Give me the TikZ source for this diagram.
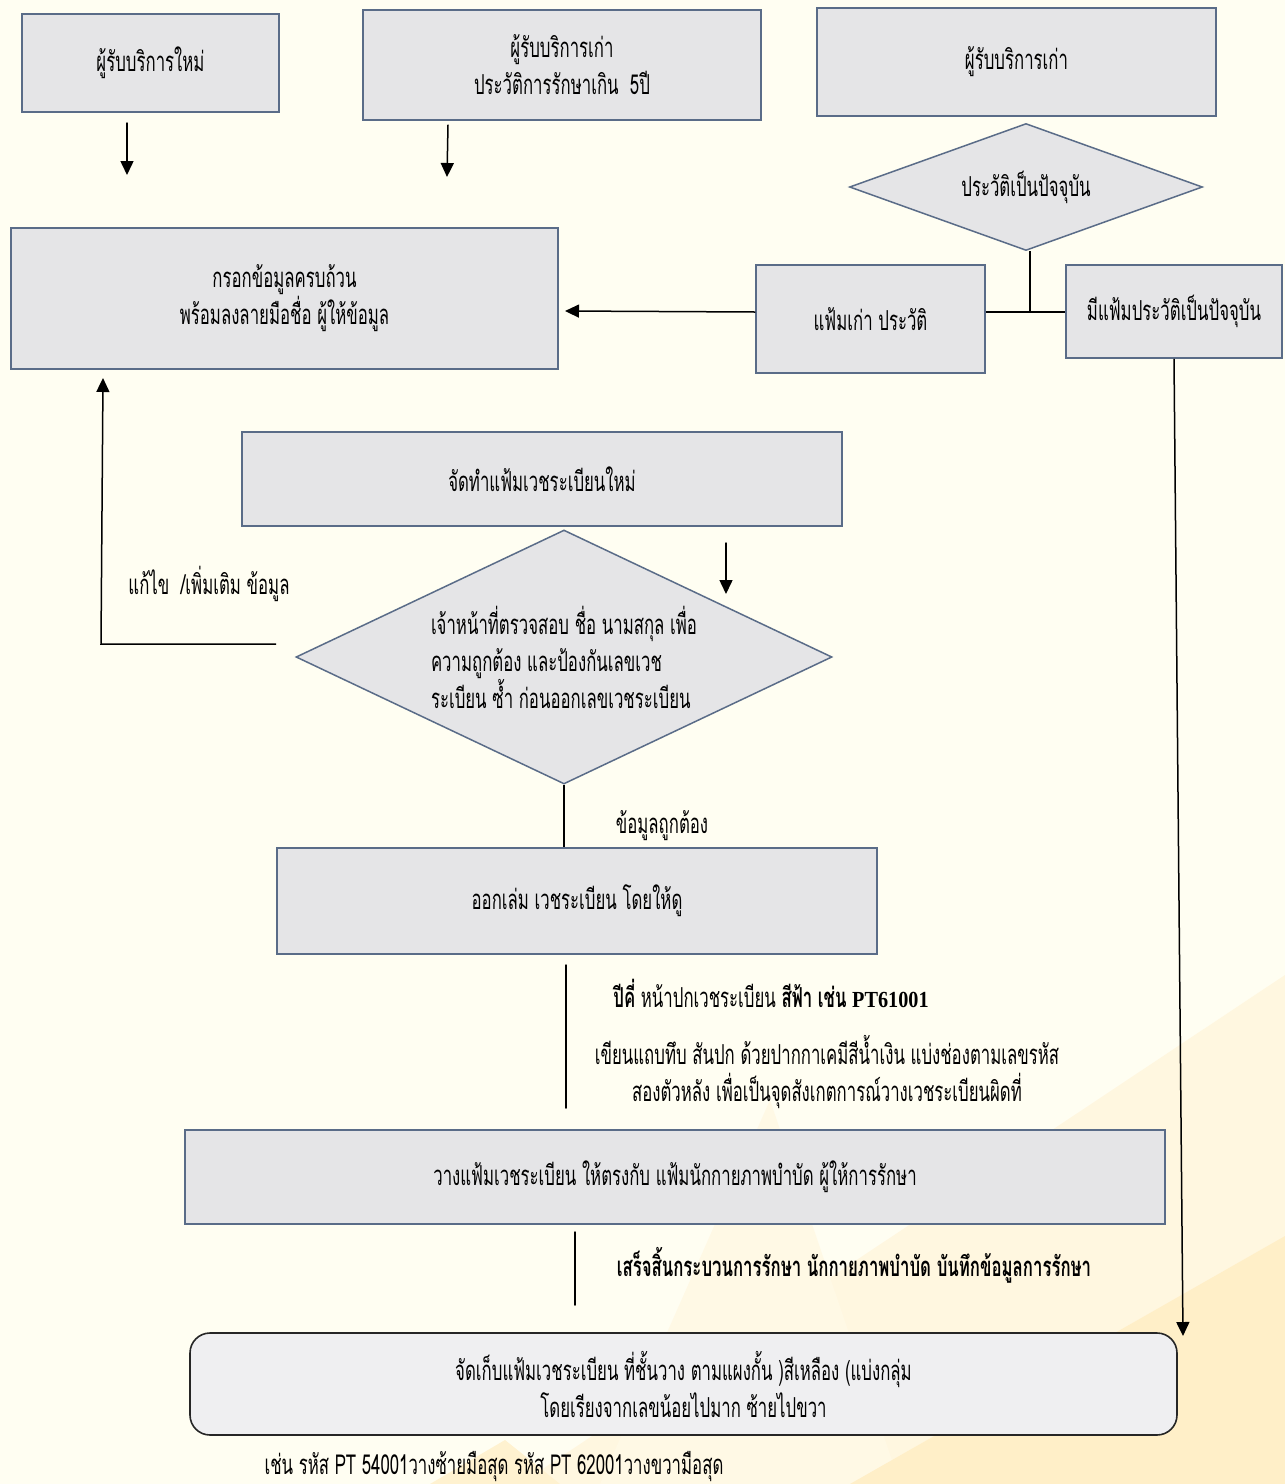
\documentclass[tikz,border=0pt]{standalone}
\usepackage{fontspec}
\usepackage{tikz}
\usetikzlibrary{calc, shapes.geometric, arrows.meta}
\usepackage{tkz-euclide}
\newfontfamily\thaifont[Script=Thai, FakeStretch=0.61]{Loma}
\newfontfamily\codefont[FakeStretch=0.88]{Liberation Serif}
\definecolor{paper}{HTML}{FFFEF2}
\definecolor{boxfill}{HTML}{E5E5E7}
\definecolor{boxline}{HTML}{5A6C88}
\definecolor{roundfill}{HTML}{EFEFF1}
\definecolor{tintlight}{HTML}{FFF7E0}
\definecolor{tintdeep}{HTML}{FFEFC8}
\tikzset{
  flowbox/.style={draw=boxline, fill=boxfill, line width=1.5pt, align=center, inner sep=0pt},
  choice/.style={diamond, draw=boxline, fill=boxfill, line width=1.5pt, inner sep=0pt},
  storebox/.style={draw=black!85, fill=roundfill, line width=1.6pt, rounded corners=20pt, align=center, inner sep=0pt},
  note/.style={align=center, inner sep=0pt},
}

\begin{document}
\begin{tikzpicture}[x=1pt, y=-1pt, line width=1.5pt, >={Triangle[length=14pt, width=13pt]},
                    font=\thaifont\fontsize{27.5}{37}\selectfont]
                \useasboundingbox (0,0) rectangle (1285,1484);
                \fill[paper] (0,0) rectangle (1285,1484);
                \fill[tintlight] (1285,975) -- (1285,1484) -- (520,1484) -- cycle;
                \fill[tintlight!70!paper] (770,1100) -- (900,1484) -- (600,1484) -- cycle;
                \fill[tintdeep] (1285,1236) -- (1285,1484) -- (850,1484) -- cycle;
                \fill[tintdeep!80!paper] (505,1440) -- (560,1484) -- (430,1484) -- cycle;

                \node[flowbox, minimum width=257pt, minimum height=98pt] (newpt) at (150.5,63) {ผู้รับบริการใหม่};
                \node[flowbox, minimum width=398pt, minimum height=110pt] (oldpt) at (562,65)
                    {ผู้รับบริการเก่า\\ประวัติการรักษาเกิน~~5ปี};
                \node[flowbox, minimum width=399pt, minimum height=108pt] (oldcur) at (1016.5,62) {ผู้รับบริการเก่า};
                \node[choice, aspect=2.78, minimum width=353pt, minimum height=127pt] (ifcur) at (1026,187)
                    {ประวัติเป็นปัจจุบัน};
                \node[flowbox, minimum width=547pt, minimum height=141pt] (fill) at (284.5,298.5)
                    {กรอกข้อมูลครบถ้วน\\พร้อมลงลายมือชื่อ ผู้ให้ข้อมูล};
                \node[flowbox, minimum width=229pt, minimum height=108pt] (oldfile) at (870.5,319) {แฟ้มเก่า ประวัติ};
                \node[flowbox, minimum width=216pt, minimum height=93pt] (curfile) at (1174,311.5) {มีแฟ้มประวัติเป็นปัจจุบัน};
                \node[flowbox, minimum width=600pt, minimum height=94pt] (newfile) at (542,479) {จัดทำแฟ้มเวชระเบียนใหม่};
                \node[choice, aspect=2.11, minimum width=536pt, minimum height=254pt, align=left] (check) at (564,657)
                    {เจ้าหน้าที่ตรวจสอบ ชื่อ นามสกุล เพื่อ\\ความถูกต้อง และป้องกันเลขเวช\\ระเบียน ซ้ำ ก่อนออกเลขเวชระเบียน};
                \node[flowbox, minimum width=600pt, minimum height=106pt] (issue) at (577,901) {ออกเล่ม เวชระเบียน โดยให้ดู};
                \node[flowbox, minimum width=980pt, minimum height=94pt] (match) at (675,1177)
                    {วางแฟ้มเวชระเบียน ให้ตรงกับ แฟ้มนักกายภาพบำบัด ผู้ให้การรักษา};
                \node[storebox, minimum width=987pt, minimum height=102pt] (store) at (683.5,1384)
                    {จัดเก็บแฟ้มเวชระเบียน ที่ชั้นวาง ตามแผงกั้น )สีเหลือง (แบ่งกลุ่ม\\โดยเรียงจากเลขน้อยไปมาก ซ้ายไปขวา};

                \node[note] (fixlbl) at (209,584) {แก้ไข~~/เพิ่มเติม ข้อมูล};
                \node[note] (oklbl) at (662,826) {ข้อมูลถูกต้อง};
                \node[note] (oddlbl) at (771,993)
                    {\textbf{ปีคี่} หน้าปกเวชระเบียน \textbf{สีฟ้า เช่น {\codefont\fontsize{23}{26}\selectfont PT61001}}};
                \node[note] (penlbl) at (827,1072)
                    {เขียนแถบทึบ สันปก ด้วยปากกาเคมีสีน้ำเงิน แบ่งช่องตามเลขรหัส\\สองตัวหลัง เพื่อเป็นจุดสังเกตการณ์วางเวชระเบียนผิดที่};
                \node[note] (donelbl) at (854,1265) {\textbf{เสร็จสิ้นกระบวนการรักษา นักกายภาพบำบัด บันทึกข้อมูลการรักษา}};
                \node[note, anchor=base] (exlbl) at (494,1474) {เช่น รหัส PT 54001วางซ้ายมือสุด รหัส PT 62001วางขวามือสุด};

                \tkzDefPoints{127/123/a1, 127/175/a2, 448/125/b1, 447/177/b2, 726/543/c1, 726/594/c2,
                              1030/312/j1, 565/311/e1, 1183/1336/g2, 276/644/r1, 101/644/r2, 103/378/r3,
                              566/965/s1, 566/1108/s2, 575/1232/t1, 575/1305/t2}
                \tkzDrawSegments[black, line width=1.5pt, ->](a1,a2 b1,b2 c1,c2)
                \tkzDrawSegments[black, line width=1.5pt](s1,s2 t1,t2)
                \draw (ifcur.south -| j1) -- (j1);
                \draw (oldfile.east |- j1) -- (curfile.west |- j1);
                \draw[->] (oldfile.west |- j1) -- (e1);
                \draw[->] (curfile.south) -- (g2);
                \draw[->] (r1) -- (r2) -- (r3);
                \draw (check.south) -- (check.south |- issue.north);
            \end{tikzpicture}
\end{document}
